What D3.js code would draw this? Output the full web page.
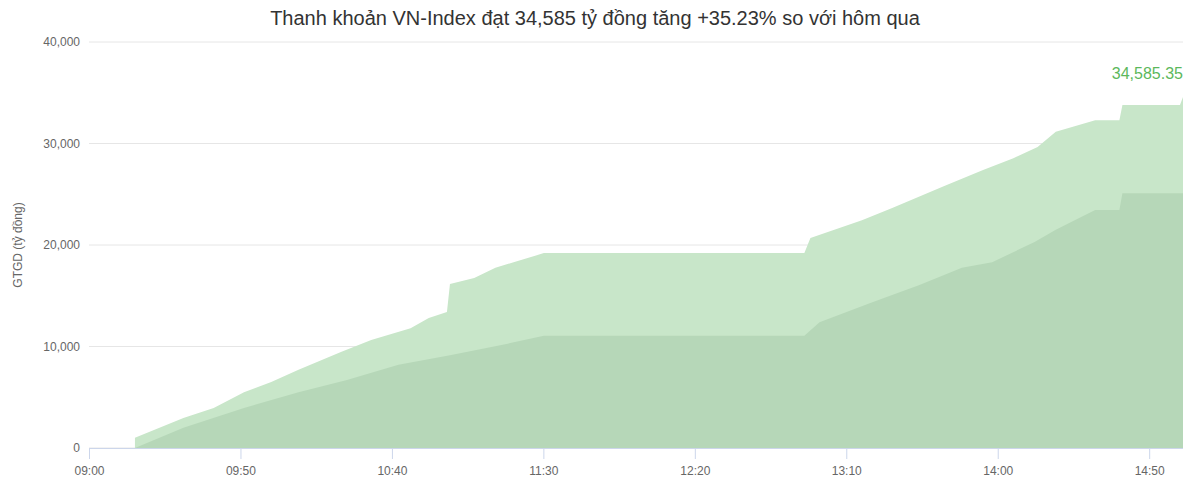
<!DOCTYPE html>
<html><head><meta charset="utf-8">
<script src="https://cdn.jsdelivr.net/npm/d3@7"></script>
<style>body{margin:0;background:#fff;font-family:"Liberation Sans",Arial,sans-serif}</style>
</head><body><svg id="chart" width="1200" height="493"></svg>
<script>
// times as "HH:MM", values in tỷ đồng
var todayTimes = ["09:15","09:15","09:31","09:41","09:51","10:00","10:09","10:23","10:33","10:46","10:52","10:58","10:59","11:07","11:14","11:20","11:30","12:56","12:58","13:15","13:25","13:42","13:55","14:05","14:13","14:19","14:32","14:40","14:41","15:00","15:01"];
var todayValues = [0,1000,2950,3950,5500,6500,7700,9450,10650,11800,12800,13400,16150,16750,17750,18300,19200,19200,20700,22450,23650,25800,27400,28550,29650,31150,32300,32300,33800,33800,34585.35];
var prevTimes = ["09:15","09:31","09:51","10:09","10:25","10:42","10:59","11:16","11:30","12:56","13:01","13:18","13:34","13:48","13:58","14:12","14:19","14:32","14:40","14:41","15:01"];
var prevValues = [0,2000,3950,5500,6700,8200,9150,10150,11050,11050,12400,14300,16050,17750,18300,20300,21500,23450,23450,25100,25100];
var yTicks = [0,10000,20000,30000,40000];
var xTickLabels = ["09:00","09:50","10:40","11:30","12:20","13:10","14:00","14:50"];

function toMin(t) { var p = t.split(":"); return (+p[0]) * 60 + (+p[1]); }

var svg = d3.select("#chart");
var x = d3.scaleLinear().domain([toMin("09:00"), toMin("15:01")]).range([89.5, 1183]);
var y = d3.scaleLinear().domain([0, 40000]).range([448, 42]);

// grid
svg.selectAll(".grid").data(yTicks).enter().append("line")
    .attr("x1", 89).attr("x2", 1183)
    .attr("y1", function(d) { return y(d); }).attr("y2", function(d) { return y(d); })
    .attr("stroke", "#e6e6e6");

var area = d3.area()
    .x(function(d) { return x(toMin(d[0])); })
    .y0(y(0))
    .y1(function(d) { return y(d[1]); });

svg.append("path").datum(d3.zip(todayTimes, todayValues))
    .attr("d", area).attr("fill", "#c8e6c9");
svg.append("path").datum(d3.zip(prevTimes, prevValues))
    .attr("d", area).attr("fill", "#b6d7b8");

// y labels
svg.selectAll(".ylab").data(yTicks).enter().append("text")
    .attr("x", 80).attr("y", function(d) { return y(d) + 4; })
    .attr("text-anchor", "end").attr("font-size", 12).attr("fill", "#666")
    .text(function(d) { return d3.format(",")(d); });

// x axis
svg.append("line").attr("x1", 89).attr("x2", 1183).attr("y1", 448.5).attr("y2", 448.5).attr("stroke", "#ccd6eb");
svg.selectAll(".xt").data(xTickLabels).enter().append("line")
    .attr("x1", function(d) { return x(toMin(d)); }).attr("x2", function(d) { return x(toMin(d)); })
    .attr("y1", 449).attr("y2", 459).attr("stroke", "#ccd6eb");
svg.selectAll(".xl").data(xTickLabels).enter().append("text")
    .attr("x", function(d) { return x(toMin(d)); }).attr("y", 475)
    .attr("text-anchor", "middle").attr("font-size", 12).attr("fill", "#666")
    .text(function(d) { return d; });

svg.append("text").attr("transform", "translate(22,245) rotate(-90)")
    .attr("text-anchor", "middle").attr("font-size", 12).attr("fill", "#666")
    .text("GTGD (tỷ đồng)");

svg.append("text").attr("x", 595).attr("y", 25).attr("text-anchor", "middle")
    .attr("font-size", 20).attr("fill", "#333")
    .text("Thanh khoản VN-Index đạt 34,585 tỷ đồng tăng +35.23% so với hôm qua");

var last = todayValues[todayValues.length - 1];
svg.append("text").attr("x", 1183).attr("y", 79).attr("text-anchor", "end")
    .attr("font-size", 16).attr("fill", "#5cb85c")
    .text(d3.format(",.2f")(last));
</script></body></html>
